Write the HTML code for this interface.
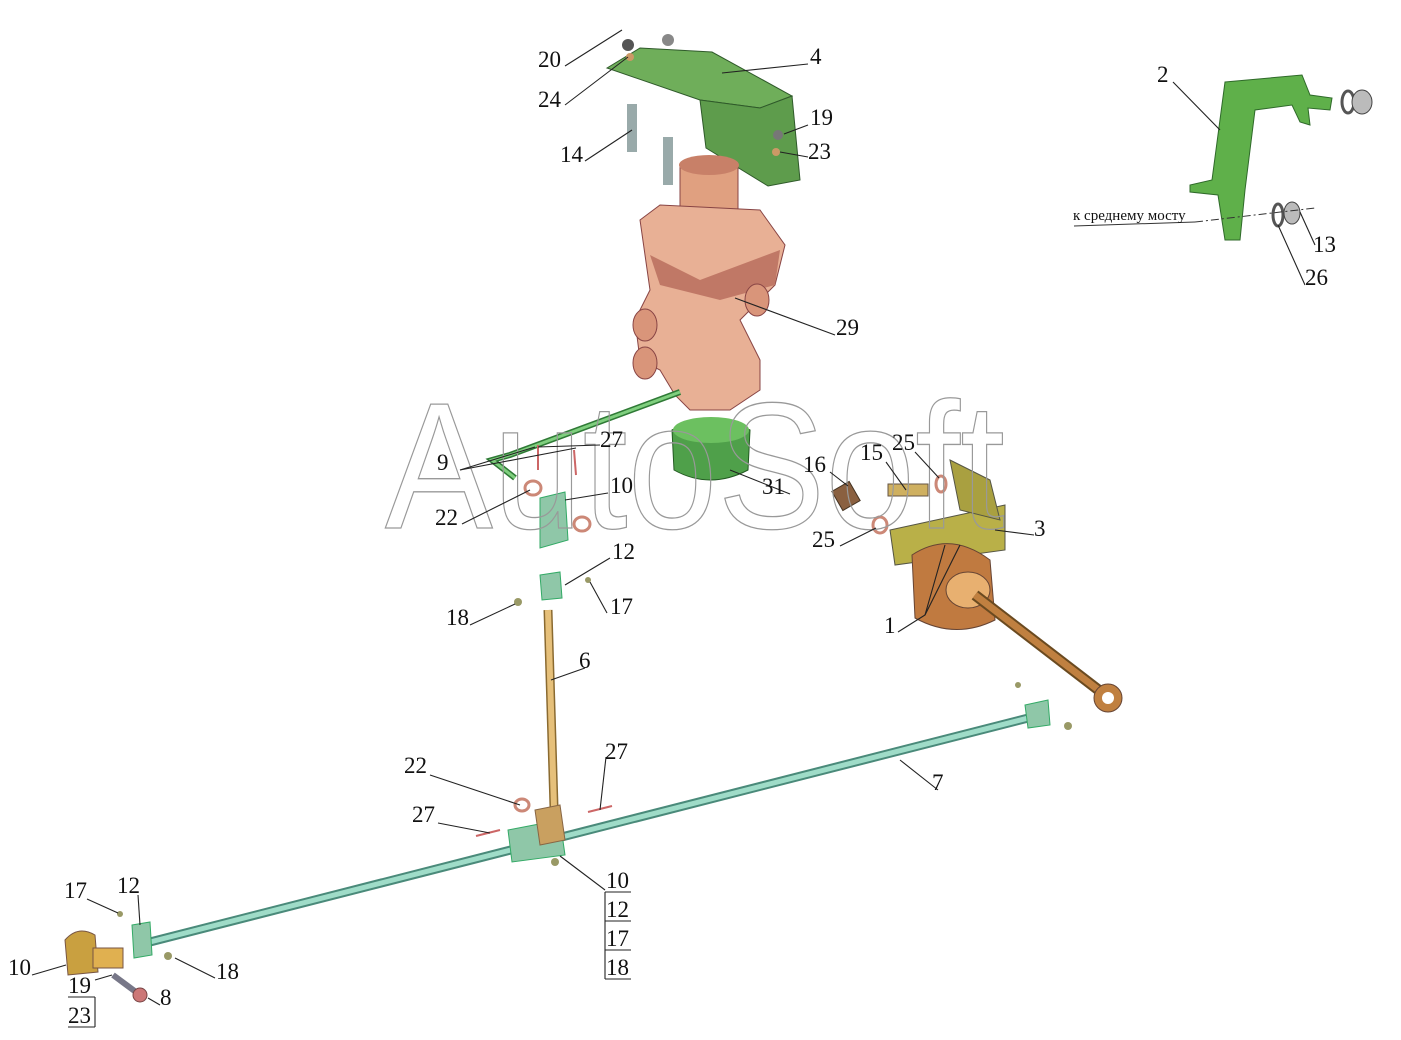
<!DOCTYPE html>
<html><head><meta charset="utf-8"><style>
html,body{margin:0;padding:0;background:#fff;}
svg{display:block;}
.t{font-family:"Liberation Serif",serif;font-size:23px;fill:#111;}
.l{stroke:#222;stroke-width:1.1;fill:none;}
</style></head><body>
<svg width="1401" height="1040" viewBox="0 0 1401 1040" xmlns="http://www.w3.org/2000/svg">
<rect width="1401" height="1040" fill="#fff"/>

<polygon points="607,68 640,48 712,52 792,96 760,108 700,100" fill="#6fae5a" stroke="#2f5a2a"/>
<polygon points="700,100 760,108 792,96 800,180 768,186 706,148" fill="#5e9c4c" stroke="#2f5a2a"/>
<circle cx="628" cy="45" r="6" fill="#555"/><circle cx="668" cy="40" r="6" fill="#888"/>
<circle cx="630" cy="57" r="4" fill="#c96"/><circle cx="778" cy="135" r="5" fill="#777"/>
<circle cx="776" cy="152" r="4" fill="#c96"/>
<rect x="627" y="104" width="10" height="48" fill="#9aa"/><rect x="663" y="137" width="10" height="48" fill="#9aa"/>

<rect x="680" y="160" width="58" height="60" rx="8" fill="#e0a080" stroke="#844"/>
<ellipse cx="709" cy="165" rx="30" ry="10" fill="#c88068"/>
<path d="M640,220 L660,205 L760,210 L785,245 L775,285 L760,300 L740,320 L760,360 L760,390 L730,410 L690,410 L675,395 L660,370 L640,360 L635,320 L650,290 L645,255 Z" fill="#e8b095" stroke="#844"/>
<path d="M650,255 L700,280 L780,250 L775,285 L720,300 L660,285 Z" fill="#c07866"/>
<ellipse cx="645" cy="325" rx="12" ry="16" fill="#d9957a" stroke="#844"/>
<ellipse cx="645" cy="363" rx="12" ry="16" fill="#d9957a" stroke="#844"/>
<ellipse cx="757" cy="300" rx="12" ry="16" fill="#d9957a" stroke="#844"/>
<path d="M672,430 Q710,410 750,430 L748,470 Q710,490 674,470 Z" fill="#4fa04a" stroke="#235a22"/>
<ellipse cx="711" cy="430" rx="38" ry="13" fill="#6cc060"/>

<polyline points="680,392 510,455 492,460 515,478" fill="none" stroke="#2f7a36" stroke-width="6"/>
<polyline points="680,392 510,455 492,460 515,478" fill="none" stroke="#7fcf7e" stroke-width="3"/>
<line x1="538" y1="445" x2="538" y2="470" stroke="#c66" stroke-width="2"/>
<line x1="574" y1="450" x2="576" y2="475" stroke="#c66" stroke-width="2"/>
<ellipse cx="533" cy="488" rx="8" ry="7" fill="none" stroke="#c87" stroke-width="3"/>
<ellipse cx="582" cy="524" rx="8" ry="7" fill="none" stroke="#c87" stroke-width="3"/>
<path d="M540,498 L565,492 L568,540 L540,548 Z" fill="#8fc7a8" stroke="#3a6"/>
<path d="M540,575 L560,572 L562,598 L542,600 Z" fill="#8fc7a8" stroke="#3a6"/>
<circle cx="588" cy="580" r="3" fill="#996"/><circle cx="518" cy="602" r="4" fill="#996"/>

<line x1="548" y1="610" x2="555" y2="840" stroke="#8a6a30" stroke-width="9"/>
<line x1="548" y1="610" x2="555" y2="840" stroke="#e6c07a" stroke-width="6"/>

<line x1="150" y1="942" x2="1040" y2="715" stroke="#4a8a7a" stroke-width="9"/>
<line x1="150" y1="942" x2="1040" y2="715" stroke="#9fdcc8" stroke-width="5"/>
<path d="M508,830 L560,820 L565,855 L512,862 Z" fill="#8fc7a8" stroke="#3a6"/>
<path d="M535,810 L560,805 L565,840 L540,845 Z" fill="#c9a060" stroke="#864"/>
<ellipse cx="522" cy="805" rx="7" ry="6" fill="none" stroke="#c87" stroke-width="3"/>
<line x1="588" y1="812" x2="612" y2="806" stroke="#c66" stroke-width="2"/>
<line x1="476" y1="836" x2="500" y2="830" stroke="#c66" stroke-width="2"/>
<circle cx="555" cy="862" r="4" fill="#996"/>
<path d="M1025,705 L1048,700 L1050,725 L1028,728 Z" fill="#8fc7a8" stroke="#3a6"/>
<circle cx="1018" cy="685" r="3" fill="#996"/><circle cx="1068" cy="726" r="4" fill="#996"/>

<path d="M65,940 Q78,925 95,935 L98,972 L68,975 Z" fill="#c9a040" stroke="#754"/>
<rect x="93" y="948" width="30" height="20" fill="#e0b050" stroke="#754"/>
<path d="M132,925 L150,922 L152,955 L134,958 Z" fill="#8fc7a8" stroke="#3a6"/>
<circle cx="120" cy="914" r="3" fill="#996"/><circle cx="168" cy="956" r="4" fill="#996"/>
<path d="M113,975 L140,995" stroke="#778" stroke-width="6"/>
<circle cx="140" cy="995" r="7" fill="#c77" stroke="#744"/>

<polygon points="890,530 1005,505 1005,550 895,565" fill="#b9b048" stroke="#554"/>
<polygon points="950,460 990,480 1000,520 960,510" fill="#a9a040" stroke="#554"/>
<path d="M912,555 Q950,530 990,560 L995,620 Q955,640 915,618 Z" fill="#c07a40" stroke="#643"/>
<ellipse cx="968" cy="590" rx="22" ry="18" fill="#e8b070" stroke="#643"/>
<line x1="975" y1="595" x2="1105" y2="695" stroke="#6a4a20" stroke-width="11"/>
<line x1="975" y1="595" x2="1105" y2="695" stroke="#c08040" stroke-width="7"/>
<circle cx="1108" cy="698" r="14" fill="#c08040" stroke="#643"/>
<circle cx="1108" cy="698" r="6" fill="#fff"/>
<rect x="836" y="485" width="20" height="22" fill="#8a6040" stroke="#432" transform="rotate(-30 846 496)"/>
<rect x="888" y="484" width="40" height="12" fill="#cfb060" stroke="#654"/>
<ellipse cx="941" cy="484" rx="5" ry="8" fill="none" stroke="#c87" stroke-width="3"/>
<ellipse cx="880" cy="525" rx="7" ry="8" fill="none" stroke="#c87" stroke-width="3"/>

<path d="M1225,82 L1302,75 L1310,95 L1332,98 L1330,110 L1308,108 L1310,125 L1300,122 L1292,105 L1255,110 L1245,190 L1240,240 L1225,240 L1218,195 L1190,192 L1190,185 L1212,180 Z" fill="#5fb04a" stroke="#2f6a2a"/>
<ellipse cx="1348" cy="102" rx="6" ry="11" fill="none" stroke="#555" stroke-width="3"/>
<ellipse cx="1362" cy="102" rx="10" ry="12" fill="#bbb" stroke="#444"/>
<ellipse cx="1278" cy="215" rx="5" ry="11" fill="none" stroke="#555" stroke-width="3"/>
<ellipse cx="1292" cy="213" rx="8" ry="11" fill="#bbb" stroke="#444"/>
<line x1="1195" y1="222" x2="1315" y2="208" stroke="#333" stroke-dasharray="8,3,2,3"/>
<line x1="1074" y1="226" x2="1195" y2="222" stroke="#333"/>

<text x="385" y="528" font-family="Liberation Sans,sans-serif" font-size="180" textLength="620" lengthAdjust="spacingAndGlyphs" fill="none" stroke="#999" stroke-width="1.3">AutoSoft</text>

<g class="l">
<path d="M565,66 L622,30"/><path d="M565,105 L628,57"/>
<path d="M722,73 L808,64"/><path d="M585,161 L632,130"/>
<path d="M784,134 L808,125"/><path d="M780,152 L808,157"/>
<path d="M735,298 L835,335"/>
<path d="M460,470 L535,447"/><path d="M460,470 L576,448"/><path d="M600,445 L538,447"/>
<path d="M565,500 L608,493"/><path d="M462,524 L530,490"/>
<path d="M730,470 L790,494"/>
<path d="M848,486 L830,472"/><path d="M906,490 L886,462"/><path d="M939,478 L915,452"/>
<path d="M995,530 L1034,535"/><path d="M840,546 L876,528"/>
<path d="M565,585 L610,558"/><path d="M590,582 L607,613"/><path d="M470,625 L515,604"/>
<path d="M898,632 L925,615 L945,545"/><path d="M925,615 L960,545"/>
<path d="M551,680 L585,668"/>
<path d="M900,760 L938,790"/>
<path d="M430,775 L520,805"/><path d="M606,757 L600,810"/><path d="M438,823 L490,833"/>
<path d="M560,856 L605,890"/>
<path d="M87,899 L118,913"/><path d="M138,895 L140,925"/>
<path d="M32,975 L66,965"/><path d="M95,980 L112,975"/><path d="M175,958 L215,978"/><path d="M148,998 L160,1005"/>
<path d="M1173,82 L1220,130"/><path d="M1300,212 L1315,245"/><path d="M1278,225 L1305,285"/>
</g>
<g class="l" stroke-width="1"><path d="M605,892 L631,892 M605,921 L631,921 M605,950 L631,950 M605,979 L631,979 M605,892 L605,979"/>
<path d="M68,997 L95,997 M68,1027 L95,1027 M95,997 L95,1027"/></g>

<g class="t">
<text x="538" y="67">20</text><text x="538" y="107">24</text><text x="810" y="64">4</text>
<text x="560" y="162">14</text><text x="810" y="125">19</text><text x="808" y="159">23</text>
<text x="836" y="335">29</text><text x="600" y="447">27</text><text x="437" y="470">9</text>
<text x="610" y="493">10</text><text x="435" y="525">22</text><text x="762" y="494">31</text>
<text x="803" y="472">16</text><text x="860" y="460">15</text><text x="892" y="450">25</text>
<text x="1034" y="536">3</text><text x="812" y="547">25</text><text x="612" y="559">12</text>
<text x="610" y="614">17</text><text x="446" y="625">18</text><text x="884" y="633">1</text>
<text x="579" y="668">6</text><text x="932" y="790">7</text><text x="404" y="773">22</text>
<text x="605" y="759">27</text><text x="412" y="822">27</text>
<text x="606" y="888">10</text><text x="606" y="917">12</text><text x="606" y="946">17</text><text x="606" y="975">18</text>
<text x="64" y="898">17</text><text x="117" y="893">12</text><text x="8" y="975">10</text>
<text x="68" y="993">19</text><text x="68" y="1023">23</text><text x="216" y="979">18</text><text x="160" y="1005">8</text>
<text x="1157" y="82">2</text><text x="1313" y="252">13</text><text x="1305" y="285">26</text>
</g>
<text x="1073" y="220" font-family="Liberation Serif,serif" font-size="15" fill="#111">к среднему мосту</text>
</svg>
</body></html>
